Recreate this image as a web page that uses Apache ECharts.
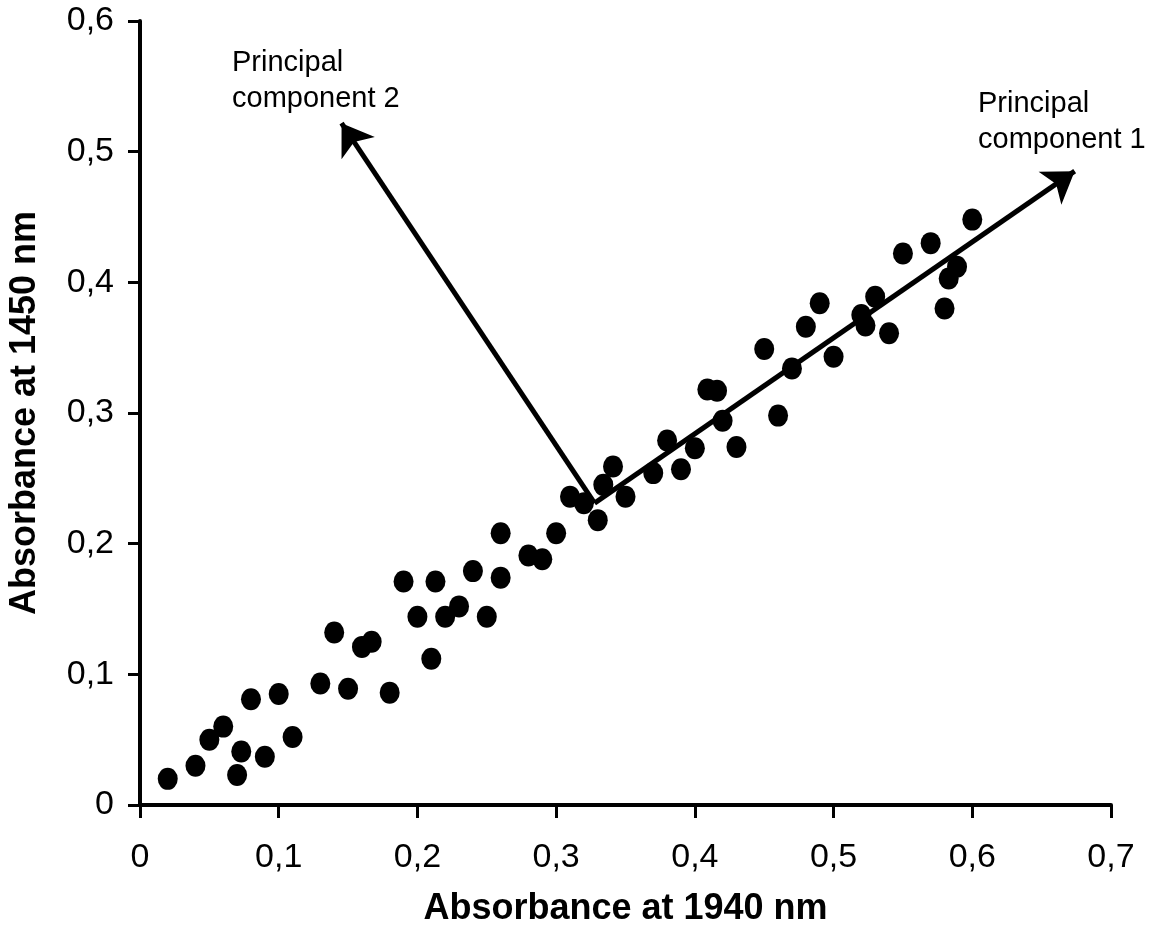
<!DOCTYPE html>
<html>
<head>
<meta charset="utf-8">
<script src="https://cdn.jsdelivr.net/npm/echarts@6/dist/echarts.min.js"></script>
<style>
html,body{margin:0;padding:0;background:#fff;}
#chart{width:1164px;height:937px;}
</style>
</head>
<body>
<div id="chart"></div>
<script>
// Data
const xValues = [0.02,0.04,0.05,0.06,0.073,0.07,0.08,0.09,0.1,0.11,0.13,0.14,0.15,0.16,0.167,0.18,0.19,0.2,0.21,0.213,0.22,0.23,0.24,0.25,0.26,0.26,0.28,0.29,0.3,0.31,0.32,0.33,0.334,0.341,0.35,0.37,0.38,0.39,0.4,0.409,0.416,0.42,0.43,0.45,0.46,0.47,0.48,0.49,0.5,0.52,0.523,0.53,0.54,0.55,0.57,0.58,0.583,0.589,0.6];
const yValues = [0.02,0.03,0.05,0.06,0.041,0.023,0.081,0.037,0.085,0.052,0.093,0.132,0.089,0.121,0.125,0.086,0.171,0.144,0.112,0.171,0.144,0.152,0.179,0.144,0.208,0.174,0.191,0.188,0.208,0.236,0.231,0.218,0.245,0.259,0.236,0.254,0.279,0.257,0.273,0.318,0.317,0.294,0.274,0.349,0.298,0.334,0.366,0.384,0.343,0.375,0.367,0.389,0.361,0.422,0.43,0.38,0.403,0.412,0.448];
const xTickLabels = ['0','0,1','0,2','0,3','0,4','0,5','0,6','0,7'];
const yTickLabels = ['0','0,1','0,2','0,3','0,4','0,5','0,6'];
const pcOrigin = [0.3277, 0.231];
const pc1End = [0.6738, 0.4851];
const pc2End = [0.1453, 0.5218];
const xName = 'Absorbance at 1940 nm';
const yName = 'Absorbance at 1450 nm';
const pc1Label = 'Principal\ncomponent 1';
const pc2Label = 'Principal\ncomponent 2';

const FONT = '"Liberation Sans", Arial, sans-serif';
const points = xValues.map((x, i) => [x, yValues[i]]);

const chart = echarts.init(document.getElementById('chart'), null, {renderer: 'canvas'});
chart.setOption({
  backgroundColor: '#ffffff',
  animation: false,
  textStyle: {fontFamily: FONT},
  grid: {left: 140, right: 53, top: 21, bottom: 132, containLabel: false, outerBoundsMode: 'none'},
  xAxis: {
    type: 'value', min: 0, max: 0.7, interval: 0.1,
    name: xName, nameLocation: 'middle', nameGap: 86,
    nameTextStyle: {fontFamily: FONT, fontSize: 36, fontWeight: 'bold', color: '#000'},
    axisLine: {show: true, onZero: false, lineStyle: {color: '#000', width: 4}},
    axisTick: {show: true, length: 13, lineStyle: {color: '#000', width: 3}},
    axisLabel: {
      color: '#000', fontSize: 34, fontFamily: FONT, margin: 36,
      formatter: v => xTickLabels[Math.round(v * 10)]
    },
    splitLine: {show: false}
  },
  yAxis: {
    type: 'value', min: 0, max: 0.6, interval: 0.1,
    name: yName, nameLocation: 'middle', nameGap: 97, nameRotate: 90,
    nameTextStyle: {fontFamily: FONT, fontSize: 36, fontWeight: 'bold', color: '#000'},
    axisLine: {show: true, onZero: false, lineStyle: {color: '#000', width: 4}},
    axisTick: {show: true, length: 12, lineStyle: {color: '#000', width: 3}},
    axisLabel: {
      color: '#000', fontSize: 34, fontFamily: FONT, margin: 26,
      formatter: v => yTickLabels[Math.round(v * 10)]
    },
    splitLine: {show: false}
  },
  series: [
    {
      type: 'scatter',
      data: points,
      symbol: 'circle',
      symbolSize: [20, 22],
      itemStyle: {color: '#000', opacity: 1},
      z: 2
    },
    {
      type: 'lines',
      coordinateSystem: 'cartesian2d',
      symbol: ['none', 'arrow'],
      symbolSize: 30,
      lineStyle: {color: '#000', width: 5, opacity: 1, curveness: 0},
      data: [
        {coords: [pcOrigin, pc1End]},
        {coords: [pcOrigin, pc2End]}
      ],
      z: 3
    }
  ],
  graphic: [
    {type: 'text', left: 232, top: 45, style: {text: pc2Label, font: '29px ' + FONT, fill: '#000', lineHeight: 36}},
    {type: 'text', left: 978, top: 86, style: {text: pc1Label, font: '29px ' + FONT, fill: '#000', lineHeight: 36}}
  ]
});
</script>
</body>
</html>
